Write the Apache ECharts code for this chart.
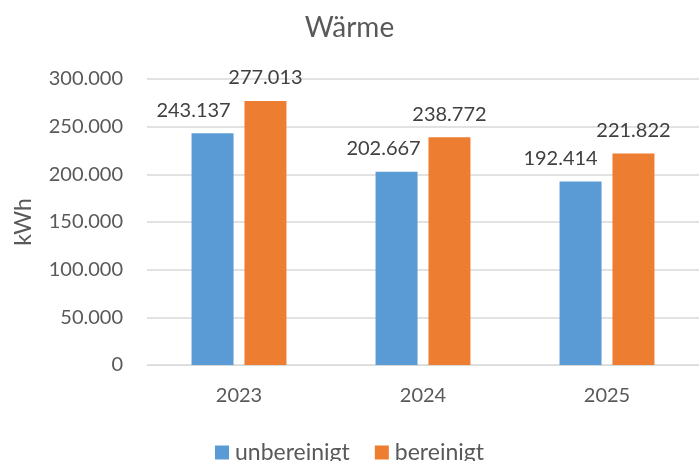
<!DOCTYPE html>
<html>
<head>
<meta charset="utf-8">
<script src="https://cdn.jsdelivr.net/npm/echarts@6/dist/echarts.min.js"></script>
<style>
  html, body { margin: 0; padding: 0; background: #fff; }
  #chart { width: 699px; height: 461px; }
</style>
</head>
<body>
<div id="chart"></div>
<script>
  // Jahre und Werte (kWh)
  const years = ['2023', '2024', '2025'];
  const unbereinigt = [243137, 202667, 192414];
  const bereinigt = [277013, 238772, 221822];
  const yTicks = [0, 50000, 100000, 150000, 200000, 250000, 300000];

  // Label-Verschiebung der blauen Werte (wie im Original nach links gerückt)
  const blueLabelShift = [-19, -13, -20];

  const textColor = '#595959';
  const font = 'Lato';

  function fmt(v) {
    return String(Math.round(v)).replace(/\B(?=(\d{3})+(?!\d))/g, '.');
  }

  const chart = echarts.init(document.getElementById('chart'));
  chart.setOption({
    animation: false,
    textStyle: { fontFamily: font, color: textColor },
    title: {
      text: 'Wärme',
      left: 'center',
      top: 9,
      textStyle: { fontFamily: font, fontSize: 28, fontWeight: 'normal', color: textColor }
    },
    legend: {
      bottom: -8,
      left: 'center',
      itemWidth: 14,
      itemHeight: 14,
      itemGap: 25,
      icon: 'rect',
      textStyle: { fontFamily: font, fontSize: 23, color: textColor, padding: [0, 0, 0, 1] },
      data: ['unbereinigt', 'bereinigt']
    },
    grid: { left: 147, top: 79, width: 558, height: 286 },
    xAxis: {
      type: 'category',
      data: years,
      axisLine: { lineStyle: { color: '#D9D9D9', width: 1 } },
      axisTick: { show: false },
      axisLabel: { fontFamily: font, fontSize: 20, color: textColor, margin: 21 }
    },
    yAxis: {
      type: 'value',
      min: yTicks[0],
      max: yTicks[yTicks.length - 1],
      interval: 50000,
      name: 'kWh',
      nameLocation: 'middle',
      nameGap: 112,
      nameRotate: 90,
      nameTextStyle: { fontFamily: font, fontSize: 23, color: textColor },
      axisLine: { show: false },
      axisTick: { show: false },
      splitLine: { lineStyle: { color: '#D9D9D9', width: 1.5 } },
      axisLabel: { fontFamily: font, fontSize: 20, color: textColor, margin: 24, formatter: fmt }
    },
    series: [
      {
        name: 'unbereinigt',
        type: 'bar',
        barWidth: 42,
        barGap: '26%',
        itemStyle: { color: '#5B9BD5' },
        data: unbereinigt.map((v, i) => ({
          value: v,
          label: { offset: [blueLabelShift[i], 0] }
        })),
        label: {
          show: true,
          position: 'top',
          distance: 13,
          fontFamily: font,
          fontSize: 20,
          color: '#404040',
          formatter: p => fmt(p.value)
        }
      },
      {
        name: 'bereinigt',
        type: 'bar',
        barWidth: 42,
        itemStyle: { color: '#ED7D31' },
        data: bereinigt,
        label: {
          show: true,
          position: 'top',
          distance: 13,
          fontFamily: font,
          fontSize: 20,
          color: '#404040',
          formatter: p => fmt(p.value)
        }
      }
    ]
  });
</script>
</body>
</html>
